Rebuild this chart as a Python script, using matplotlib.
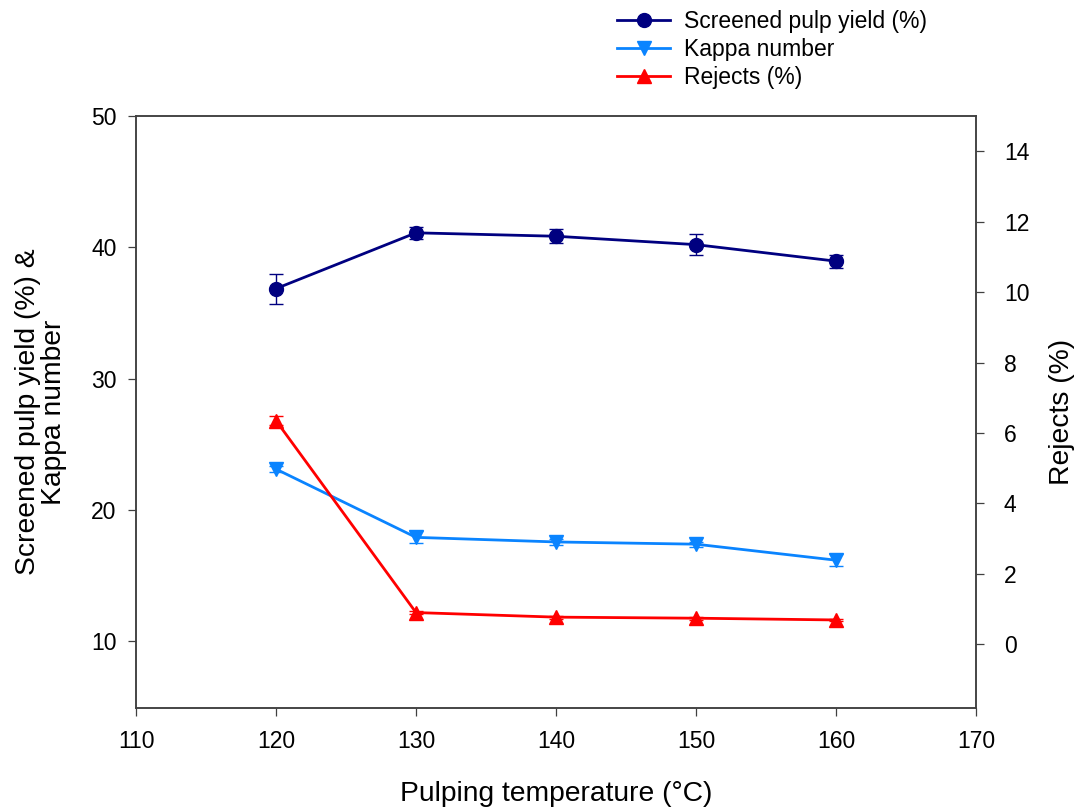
import matplotlib
matplotlib.use("Agg")
import matplotlib.pyplot as plt
from matplotlib.lines import Line2D

plt.rcParams['font.family'] = ['Liberation Sans', 'DejaVu Sans']

temperature = [120, 130, 140, 150, 160]
pulp_yield = [36.85, 41.1, 40.84, 40.2, 38.94]
pulp_yield_err = [1.15, 0.45, 0.55, 0.8, 0.5]
kappa = [23.1, 17.9, 17.55, 17.38, 16.16]
kappa_err = [0.2, 0.45, 0.25, 0.2, 0.45]
rejects = [6.35, 0.90, 0.77, 0.74, 0.69]
rejects_err = [0.12, 0.05, 0.04, 0.04, 0.04]

x_ticks = [110, 120, 130, 140, 150, 160, 170]
left_ticks = [10, 20, 30, 40, 50]
right_ticks = [0, 2, 4, 6, 8, 10, 12, 14]

c_yield = '#000080'
c_kappa = '#0A84FF'
c_rej = '#FF0000'
spine_c = '#404040'

fig = plt.figure(figsize=(10.82, 8.10), dpi=100)
ax = fig.add_axes([136/1082, 1-708/810, (976-136)/1082, (708-116)/810])
ax2 = ax.twinx()

ax.errorbar(temperature, pulp_yield, yerr=pulp_yield_err, color=c_yield, marker='o',
            markersize=10, lw=2, elinewidth=1, capsize=5, capthick=1, zorder=3)
ax.errorbar(temperature, kappa, yerr=kappa_err, color=c_kappa, marker='v',
            markersize=10, lw=2, elinewidth=1, capsize=5, capthick=1, zorder=3)
ax2.errorbar(temperature, rejects, yerr=rejects_err, color=c_rej, marker='^',
             markersize=10, lw=2, elinewidth=1, capsize=5, capthick=1, zorder=3)

ax.set_xlim(110, 170)
ax.set_ylim(4.9, 50)
ax2.set_ylim(-1.81, 15)
ax.set_xticks(x_ticks)
ax.set_yticks(left_ticks)
ax2.set_yticks(right_ticks)

for a in (ax, ax2):
    for s in a.spines.values():
        s.set_color(spine_c)
        s.set_linewidth(1.1)
    a.tick_params(direction='out', length=6, width=0.9, color=spine_c, labelsize=16.5)
ax.tick_params(axis='y', pad=8)
ax.tick_params(axis='x', pad=10)
ax2.tick_params(axis='y', pad=14)

ax.set_xlabel('Pulping temperature (°C)', fontsize=20.3, labelpad=20)
ax.set_ylabel('Screened pulp yield (%) &\nKappa number', fontsize=20.3, labelpad=17,
              linespacing=1.0)
ax2.set_ylabel('Rejects (%)', fontsize=20.3, labelpad=14)

labels = ['Screened pulp yield (%)', 'Kappa number', 'Rejects (%)']
handles = [Line2D([], [], color=c_yield, marker='o', markersize=10, lw=2),
           Line2D([], [], color=c_kappa, marker='v', markersize=10, lw=2),
           Line2D([], [], color=c_rej, marker='^', markersize=10, lw=2)]
fig.legend(handles, labels, loc='upper left', bbox_to_anchor=(608/1082, 1-1/810),
           frameon=False, fontsize=16.5, handlelength=2.3, handletextpad=0.6,
           labelspacing=0.22, borderaxespad=0)

fig.savefig('out.png', dpi=100)
